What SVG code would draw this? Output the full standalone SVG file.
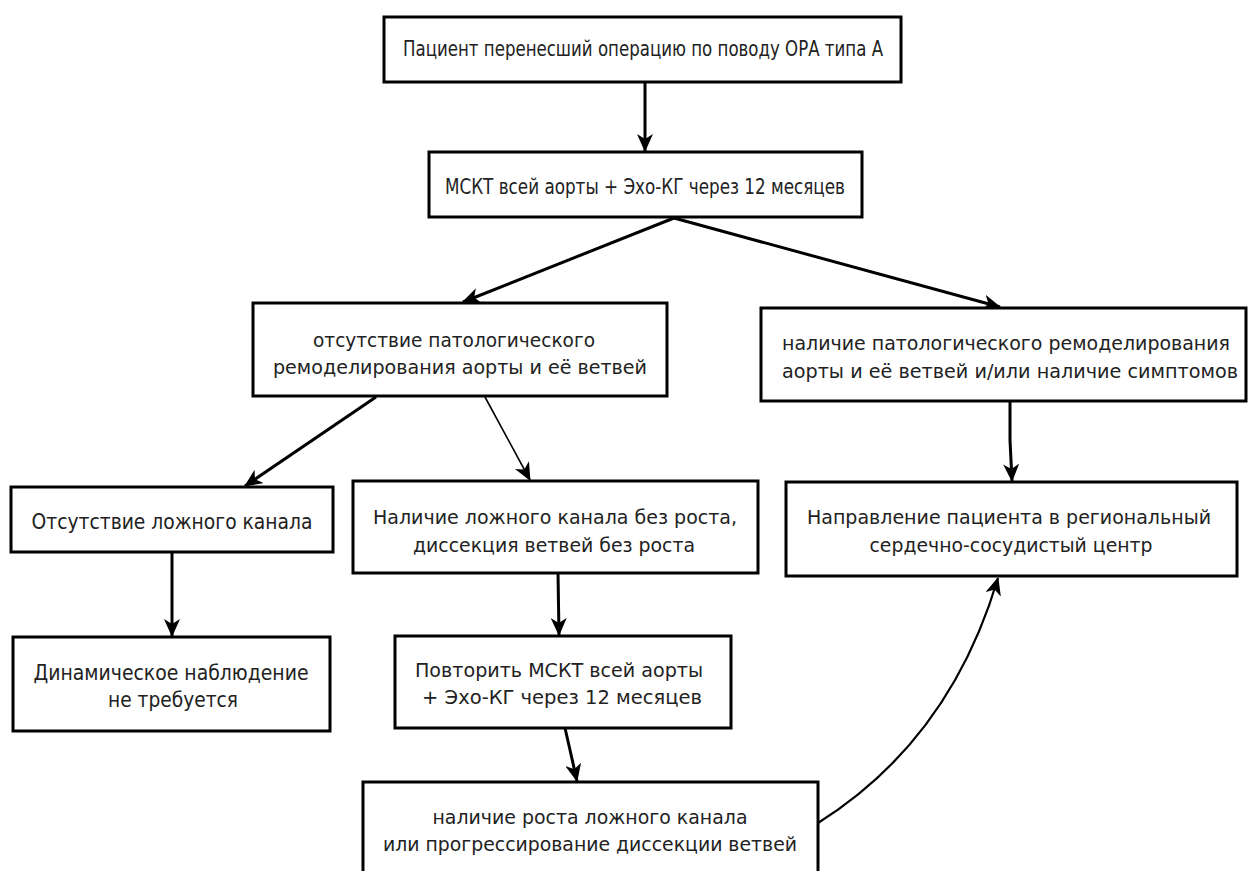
<svg xmlns="http://www.w3.org/2000/svg" width="1248" height="871" viewBox="0 0 1248 871">
<style>
.box{fill:#fff;stroke:#000;stroke-width:3}
.t{font-family:"DejaVu Sans","Liberation Sans",sans-serif;font-size:19px;fill:#222;text-anchor:middle;dominant-baseline:central}
.n{font-size:21px}
.m{font-size:20px}
.c{fill:none;stroke:#000;stroke-width:3}
.thin{fill:none;stroke:#000;stroke-width:1.6}
.cur{fill:none;stroke:#000;stroke-width:2.2}
</style>
<defs>
<marker id="ah" viewBox="0 0 18 16" refX="17" refY="8" markerWidth="18" markerHeight="16" markerUnits="userSpaceOnUse" orient="auto">
<path d="M0,0 L18,8 L0,16 L5,8 z" fill="#000"/>
</marker>
</defs>
<rect width="1248" height="871" fill="#fff"/>
<g id="connectors">
<path class="c" d="M645,82 L645,151" marker-end="url(#ah)"/>
<path class="c" d="M674,218 L463,302" marker-end="url(#ah)"/>
<path class="c" d="M674,218 L1000,307" marker-end="url(#ah)"/>
<path class="c" d="M376,397 L245,486" marker-end="url(#ah)"/>
<path class="thin" d="M485,397 L530,480" marker-end="url(#ah)"/>
<path class="c" d="M1010,401 L1010,440 L1012,481" marker-end="url(#ah)"/>
<path class="c" d="M172,553 L172,636" marker-end="url(#ah)"/>
<path class="c" d="M558,573 L559,635" marker-end="url(#ah)"/>
<path class="c" d="M565,728 L570,750 L577,781" marker-end="url(#ah)"/>
<path class="cur" d="M818,823 Q950,740 998,578" marker-end="url(#ah)"/>
</g>
<g id="n1"><rect class="box" x="384" y="17" width="517" height="65"/><text class="t n" x="643" y="49" textLength="480" lengthAdjust="spacingAndGlyphs">Пациент перенесший операцию по поводу ОРА типа А</text></g>
<g id="n2"><rect class="box" x="429" y="152" width="433" height="65"/><text class="t n" x="645" y="187" textLength="400" lengthAdjust="spacingAndGlyphs">МСКТ всей аорты + Эхо-КГ через 12 месяцев</text></g>
<g id="n3"><rect class="box" x="253" y="303" width="414" height="93"/><text class="t" x="454" y="340" textLength="282" lengthAdjust="spacingAndGlyphs">отсутствие патологического</text><text class="t" x="460" y="367" textLength="374" lengthAdjust="spacingAndGlyphs">ремоделирования аорты и её ветвей</text></g>
<g id="n4"><rect class="box" x="761" y="308" width="485" height="93"/><text class="t" x="1006" y="343" textLength="448" lengthAdjust="spacingAndGlyphs">наличие патологического ремоделирования</text><text class="t" x="1010" y="371" textLength="456" lengthAdjust="spacingAndGlyphs">аорты и её ветвей и/или наличие симптомов</text></g>
<g id="n5"><rect class="box" x="786" y="482" width="451" height="94"/><text class="t" x="1009" y="517" textLength="404" lengthAdjust="spacingAndGlyphs">Направление пациента в региональный</text><text class="t" x="1011" y="545" textLength="283" lengthAdjust="spacingAndGlyphs">сердечно-сосудистый центр</text></g>
<g id="n6"><rect class="box" x="11" y="487" width="322" height="65"/><text class="t n" x="172" y="522" textLength="281" lengthAdjust="spacingAndGlyphs">Отсутствие ложного канала</text></g>
<g id="n7"><rect class="box" x="353" y="481" width="405" height="92"/><text class="t m" x="555" y="517" textLength="364" lengthAdjust="spacingAndGlyphs">Наличие ложного канала без роста,</text><text class="t m" x="554" y="545" textLength="282" lengthAdjust="spacingAndGlyphs">диссекция ветвей без роста</text></g>
<g id="n8"><rect class="box" x="13" y="637" width="317" height="94"/><text class="t n" x="171" y="673" textLength="275" lengthAdjust="spacingAndGlyphs">Динамическое наблюдение</text><text class="t n" x="173" y="700" textLength="130" lengthAdjust="spacingAndGlyphs">не требуется</text></g>
<g id="n9"><rect class="box" x="395" y="636" width="336" height="92"/><text class="t m" x="559" y="670" textLength="288" lengthAdjust="spacingAndGlyphs">Повторить МСКТ всей аорты</text><text class="t m" x="562" y="697" textLength="280" lengthAdjust="spacingAndGlyphs">+ Эхо-КГ через 12 месяцев</text></g>
<g id="n10"><rect class="box" x="363" y="782" width="455" height="100"/><text class="t" x="590" y="817" textLength="315" lengthAdjust="spacingAndGlyphs">наличие роста ложного канала</text><text class="t" x="590" y="844" textLength="414" lengthAdjust="spacingAndGlyphs">или прогрессирование диссекции ветвей</text></g>
</svg>
